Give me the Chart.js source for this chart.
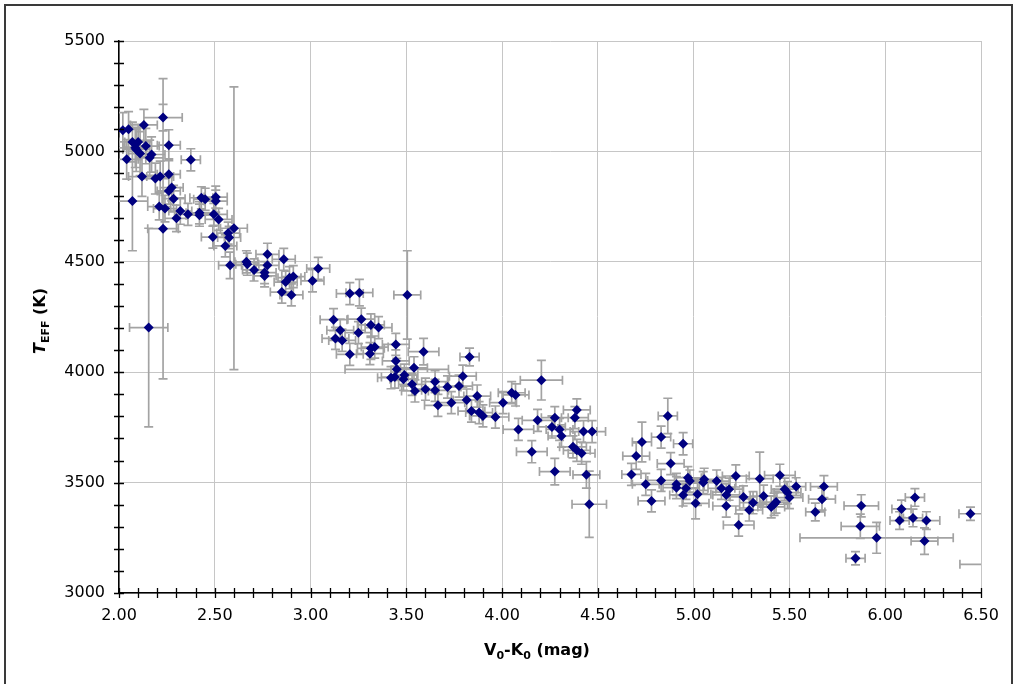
<!DOCTYPE html>
<html>
<head>
<meta charset="utf-8">
<script src="https://cdn.jsdelivr.net/npm/chart.js@4/dist/chart.umd.min.js"></script>
<style>
  html, body { margin: 0; padding: 0; background: #fff; overflow: hidden; }
  #wrap { position: relative; width: 1017px; height: 684px; }
  #frame { position: absolute; left: 4px; top: 4px; width: 1005px; height: 700px; border: 2px solid #3a3a3a; }
  canvas { position: absolute; left: 0; top: 0; }
  .ttl { position: absolute; font-family: "DejaVu Sans", Verdana, sans-serif; font-weight: bold; font-size: 16px; line-height: 1; white-space: nowrap; color: #000; }
  .ttl sub { font-size: 11px; position: relative; top: 4px; vertical-align: baseline; }
</style>
</head>
<body>
<div id="wrap">
  <div id="frame"></div>
  <canvas id="chart" width="1017" height="684"></canvas>
  <div class="ttl" id="xTitle" style="left:537px; top:642px; transform:translateX(-50%);">V<sub>0</sub>-K<sub>0</sub> (mag)</div>
  <div class="ttl" id="yTitle" style="left:40px; top:321px; transform:translate(-50%,-50%) rotate(-90deg);"><i>T</i><sub>EFF</sub> (K)</div>
</div>
<script>
// V0-K0 colour (mag)
const xVals = [
  2.02, 2.05, 2.13, 2.23, 2.07, 2.10, 2.14, 2.09, 2.11, 2.085,
  2.17, 2.16, 2.26, 2.04, 2.375, 2.12, 2.19, 2.215, 2.26, 2.275,
  2.26, 2.285, 2.07, 2.21, 2.24, 2.32, 2.30, 2.36, 2.42, 2.42,
  2.43, 2.45, 2.505, 2.505, 2.495, 2.52, 2.23, 2.155, 2.60, 2.57,
  2.575, 2.49, 2.555, 2.58, 2.665, 2.67, 2.705, 2.775, 2.775, 2.76,
  2.76, 2.86, 2.89, 2.91, 2.87, 2.85, 2.90, 3.04, 3.01, 3.205,
  3.255, 3.505, 3.12, 3.265, 3.315, 3.355, 3.155, 3.25, 3.13, 3.165,
  3.205, 3.31, 3.335, 3.315, 3.445, 3.59, 3.83, 3.445, 3.45, 3.54,
  3.42, 3.44, 3.49, 3.485, 3.53, 3.545, 3.60, 3.65, 3.65, 3.715,
  3.775, 3.795, 3.665, 3.735, 3.815, 3.87, 3.84, 3.88, 3.90, 3.965,
  4.005, 4.05, 4.07, 4.205, 4.085, 4.185, 4.155, 4.275, 4.26, 4.30,
  4.31, 4.38, 4.39, 4.425, 4.47, 4.37, 4.39, 4.415, 4.275, 4.44,
  4.455, 4.73, 4.70, 4.675, 4.75, 4.78, 4.83, 4.83, 4.865, 4.945,
  4.88, 4.91, 4.91, 4.97, 4.98, 4.96, 4.945, 5.02, 5.01, 5.05,
  5.055, 5.12, 5.145, 5.185, 5.17, 5.22, 5.17, 5.26, 5.31, 5.29,
  5.235, 5.345, 5.365, 5.45, 5.405, 5.42, 5.43, 5.475, 5.49, 5.50,
  5.535, 5.68, 5.67, 5.635, 5.875, 5.87, 5.955, 5.845, 6.155, 6.085,
  6.075, 6.145, 6.215, 6.205, 6.445, 6.56
];
// effective temperature (K)
const yVals = [
  5096, 5100, 5120, 5153, 5043, 5043, 5024, 5009, 4990, 5017,
  4986, 4971, 5028, 4964, 4962, 4886, 4877, 4886, 4896, 4836,
  4821, 4786, 4775, 4750, 4741, 4730, 4697, 4715, 4722, 4711,
  4790, 4783, 4793, 4775, 4715, 4692, 4650, 4202, 4652, 4630,
  4610, 4612, 4572, 4484, 4500, 4489, 4463, 4534, 4484, 4451,
  4436, 4511, 4428, 4433, 4408, 4363, 4350, 4470, 4414, 4356,
  4360, 4350, 4238, 4240, 4214, 4202, 4190, 4179, 4153, 4144,
  4081, 4084, 4114, 4108, 4126, 4093, 4069, 4051, 4013, 4020,
  3975, 3978, 3987, 3968, 3945, 3915, 3923, 3957, 3918, 3933,
  3937, 3982, 3850, 3862, 3874, 3892, 3824, 3817, 3802, 3797,
  3862, 3907, 3897, 3964, 3741, 3782, 3640, 3794, 3752, 3741,
  3711, 3794, 3829, 3731, 3731, 3662, 3646, 3633, 3550, 3535,
  3402, 3684, 3620, 3537, 3492, 3417, 3706, 3510, 3802, 3676,
  3586, 3492, 3477, 3522, 3507, 3474, 3444, 3447, 3406, 3500,
  3515, 3507, 3474, 3470, 3444, 3530, 3394, 3435, 3409, 3376,
  3308, 3518, 3439, 3533, 3390, 3402, 3412, 3470, 3455, 3432,
  3482, 3482, 3425, 3367, 3395, 3302, 3250, 3157, 3433, 3381,
  3328, 3340, 3328, 3235, 3359, 3130
];
// errors
const xErr = [
  0.05, 0.06, 0.07, 0.10, 0.07, 0.07, 0.07, 0.07, 0.06, 0.06,
  0.07, 0.07, 0.06, 0.06, 0.05, 0.07, 0.07, 0.07, 0.06, 0.06,
  0.06, 0.06, 0.08, 0.06, 0.06, 0.06, 0.06, 0.07, 0.07, 0.07,
  0.06, 0.06, 0.06, 0.06, 0.07, 0.07, 0.08, 0.10, 0.07, 0.06,
  0.06, 0.06, 0.06, 0.06, 0.06, 0.06, 0.06, 0.06, 0.06, 0.06,
  0.06, 0.06, 0.06, 0.06, 0.06, 0.06, 0.06, 0.06, 0.06, 0.07,
  0.07, 0.07, 0.07, 0.07, 0.07, 0.07, 0.07, 0.07, 0.07, 0.07,
  0.07, 0.07, 0.07, 0.07, 0.07, 0.08, 0.05, 0.07, 0.27, 0.07,
  0.07, 0.07, 0.07, 0.07, 0.07, 0.07, 0.07, 0.07, 0.07, 0.07,
  0.07, 0.07, 0.07, 0.07, 0.07, 0.07, 0.07, 0.07, 0.07, 0.07,
  0.07, 0.07, 0.07, 0.11, 0.08, 0.08, 0.08, 0.07, 0.07, 0.07,
  0.07, 0.07, 0.07, 0.07, 0.07, 0.07, 0.07, 0.07, 0.08, 0.07,
  0.09, 0.05, 0.07, 0.05, 0.07, 0.07, 0.05, 0.07, 0.05, 0.05,
  0.07, 0.07, 0.07, 0.07, 0.07, 0.07, 0.07, 0.07, 0.07, 0.07,
  0.07, 0.07, 0.07, 0.07, 0.07, 0.07, 0.07, 0.07, 0.07, 0.07,
  0.08, 0.07, 0.07, 0.08, 0.07, 0.07, 0.07, 0.07, 0.07, 0.07,
  0.05, 0.07, 0.07, 0.05, 0.09, 0.10, 0.40, 0.05, 0.05, 0.05,
  0.05, 0.05, 0.07, 0.07, 0.06, 0.17
];
const yErr = [
  80, 80, 70, 60, 90, 80, 80, 100, 100, 90,
  80, 80, 70, 90, 50, 90, 70, 70, 70, 60,
  60, 60, 225, 60, 60, 60, 60, 50, 50, 50,
  50, 50, 50, 50, 50, 50, 680, 450, 640, 50,
  50, 50, 50, 60, 50, 50, 50, 50, 50, 50,
  50, 50, 50, 50, 50, 50, 50, 50, 50, 50,
  60, 200, 50, 50, 50, 50, 50, 50, 50, 50,
  50, 50, 50, 50, 50, 60, 40, 50, 50, 50,
  50, 50, 50, 50, 50, 50, 50, 50, 50, 50,
  50, 50, 50, 50, 50, 50, 50, 50, 50, 50,
  50, 50, 50, 90, 50, 50, 50, 50, 50, 50,
  50, 50, 50, 50, 50, 50, 50, 50, 60, 60,
  150, 90, 60, 50, 50, 50, 50, 50, 80, 50,
  50, 50, 50, 50, 50, 50, 50, 50, 70, 50,
  50, 50, 50, 50, 50, 50, 50, 50, 50, 50,
  50, 120, 50, 50, 50, 50, 50, 50, 50, 50,
  40, 50, 50, 40, 50, 55, 70, 30, 40, 40,
  40, 40, 40, 60, 30, 30
];
const xTickLabels = ['2.00', '2.50', '3.00', '3.50', '4.00', '4.50', '5.00', '5.50', '6.00', '6.50'];
const yTickLabels = ['3000', '3500', '4000', '4500', '5000', '5500'];

const points = xVals.map((x, i) => ({ x: x, y: yVals[i] }));

// error bars, drawn behind the markers
const errorBars = {
  id: 'errorBars',
  beforeDatasetsDraw(chart) {
    const { ctx, chartArea, scales } = chart;
    const xs = scales.x, ys = scales.y;
    const cap = 4.5;
    ctx.save();
    ctx.beginPath();
    ctx.rect(chartArea.left, chartArea.top, chartArea.right - chartArea.left, chartArea.bottom - chartArea.top);
    ctx.clip();
    ctx.strokeStyle = '#a3a3a3';
    ctx.lineWidth = 1.7;
    ctx.beginPath();
    points.forEach((p, i) => {
      const px = xs.getPixelForValue(p.x), py = ys.getPixelForValue(p.y);
      const x1 = xs.getPixelForValue(p.x - xErr[i]), x2 = xs.getPixelForValue(p.x + xErr[i]);
      const y1 = ys.getPixelForValue(p.y + yErr[i]), y2 = ys.getPixelForValue(p.y - yErr[i]);
      ctx.moveTo(x1, py); ctx.lineTo(x2, py);
      ctx.moveTo(x1, py - cap); ctx.lineTo(x1, py + cap);
      ctx.moveTo(x2, py - cap); ctx.lineTo(x2, py + cap);
      ctx.moveTo(px, y1); ctx.lineTo(px, y2);
      ctx.moveTo(px - cap, y1); ctx.lineTo(px + cap, y1);
      ctx.moveTo(px - cap, y2); ctx.lineTo(px + cap, y2);
    });
    ctx.stroke();
    ctx.restore();
  }
};

// tick marks that cross the axis lines (major + minor)
const crossTicks = {
  id: 'crossTicks',
  afterDraw(chart) {
    const { ctx, chartArea, scales } = chart;
    ctx.save();
    ctx.strokeStyle = '#000';
    ctx.lineWidth = 1.3;
    ctx.beginPath();
    scales.x.ticks.forEach(t => {
      const px = Math.round(scales.x.getPixelForValue(t.value)) + 0.5;
      ctx.moveTo(px, chartArea.bottom - 5); ctx.lineTo(px, chartArea.bottom + 5);
    });
    scales.y.ticks.forEach(t => {
      const py = Math.round(scales.y.getPixelForValue(t.value)) + 0.5;
      ctx.moveTo(chartArea.left - 5, py); ctx.lineTo(chartArea.left + 5, py);
    });
    ctx.stroke();
    ctx.restore();
  }
};

const isMajor = (v, step) => Math.abs(v / step - Math.round(v / step)) < 1e-6;

new Chart(document.getElementById('chart'), {
  type: 'scatter',
  data: {
    datasets: [{
      data: points,
      pointStyle: 'rectRot',
      radius: 5,
      hoverRadius: 5,
      backgroundColor: '#000080',
      borderColor: '#000080',
      borderWidth: 0
    }]
  },
  options: {
    responsive: false,
    animation: false,
    events: [],
    layout: { padding: { left: 0, top: 41, right: 36, bottom: 0 } },
    plugins: { legend: { display: false }, tooltip: { enabled: false } },
    scales: {
      x: {
        type: 'linear',
        min: 2, max: 6.5,
        afterFit(s) { s.height = 91; },
        afterBuildTicks(s) {
          const t = [];
          for (let k = 20; k <= 65; k++) t.push({ value: k / 10 });
          s.ticks = t;
        },
        ticks: {
          autoSkip: false, maxRotation: 0, padding: 13,
          color: '#000',
          font: { family: 'DejaVu Sans', size: 16 },
          callback: v => isMajor(v, 0.5) ? xTickLabels[Math.round((v - 2) / 0.5)] : ''
        },
        grid: {
          drawTicks: false,
          color: c => (c.tick && isMajor(c.tick.value, 0.5)) ? '#c6c6c6' : 'rgba(0,0,0,0)',
          lineWidth: 1
        },
        border: { color: '#000', width: 1.5 }
      },
      y: {
        type: 'linear',
        min: 3000, max: 5500,
        afterFit(s) { s.width = 119; },
        afterBuildTicks(s) {
          const t = [];
          for (let v = 3000; v <= 5500; v += 100) t.push({ value: v });
          s.ticks = t;
        },
        ticks: {
          autoSkip: false, padding: 14,
          color: '#000',
          font: { family: 'DejaVu Sans', size: 16 },
          callback: v => isMajor(v, 500) ? yTickLabels[Math.round((v - 3000) / 500)] : ''
        },
        grid: {
          drawTicks: false,
          color: c => (c.tick && isMajor(c.tick.value, 500)) ? '#c6c6c6' : 'rgba(0,0,0,0)',
          lineWidth: 1
        },
        border: { color: '#000', width: 1.5 }
      }
    }
  },
  plugins: [errorBars, crossTicks]
});
</script>
</body>
</html>
